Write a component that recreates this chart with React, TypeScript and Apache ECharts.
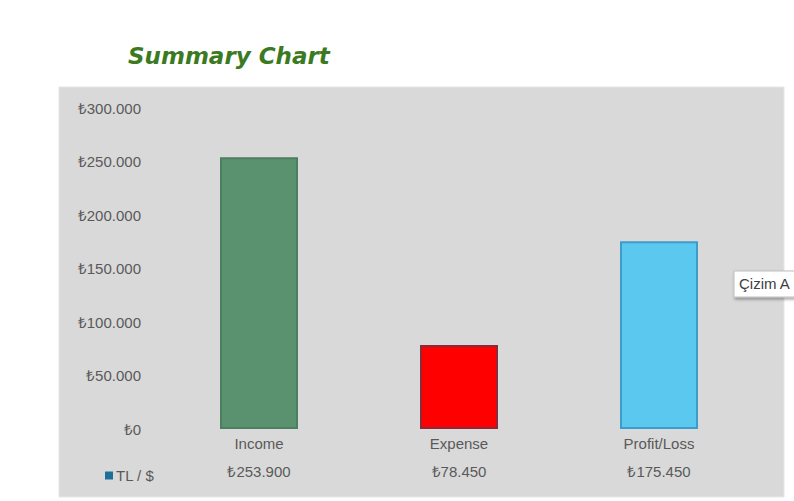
import React, { useEffect, useRef } from "react";
import * as echarts from "echarts";

const categories = ["Income", "Expense", "Profit/Loss"];
const values = [253900, 78450, 175450];
const seriesName = "TL / $";
const barColors = ["#5A9270", "#FF0000", "#5BC8F0"];
const barBorders = ["#4C7E60", "#8C2A3C", "#3E9CCB"];
const yMax = 300000;
const yInterval = 50000;

const fmt = (v: number) =>
  "₺" + String(Math.round(v)).replace(/\B(?=(\d{3})+(?!\d))/g, ".");

export default function App() {
  const ref = useRef<HTMLDivElement>(null);
  useEffect(() => {
    if (!ref.current) return;
    const chart = echarts.init(ref.current, undefined, { renderer: "svg" });
    const font = "'Liberation Sans Narrow', 'Arial Narrow', 'Liberation Sans', Arial, sans-serif";
    chart.setOption({
      animation: false,
      backgroundColor: "#FFFFFF",
      graphic: [
        {
          type: "rect",
          z: -10,
          shape: { x: 59, y: 87, width: 725, height: 410 },
          style: { fill: "#D9D9D9", stroke: "#E6E6E6", lineWidth: 1 },
          silent: true,
        },
        {
          type: "text",
          left: 128,
          top: 44,
          style: {
            text: "Summary Chart",
            fill: "#3C7A22",
            font: "italic bold 23px 'DejaVu Sans', sans-serif",
          },
        },
        {
          type: "rect",
          z: 20,
          shape: { x: 734, y: 271, width: 80, height: 26 },
          style: {
            fill: "#FFFFFF",
            stroke: "#BFBFBF",
            lineWidth: 1,
            shadowBlur: 3,
            shadowColor: "rgba(0,0,0,0.35)",
            shadowOffsetX: 1,
            shadowOffsetY: 2,
          },
        },
        {
          type: "text",
          z: 21,
          x: 739,
          y: 276,
          style: {
            text: "Çizim A",
            fill: "#404040",
            font: "15px 'Liberation Sans', Arial, sans-serif",
          },
        },
      ],
      legend: {
        left: 100,
        top: 463,
        icon: "rect",
        itemWidth: 8,
        itemHeight: 8,
        itemGap: 2,
        selectedMode: false,
        data: [{ name: seriesName, itemStyle: { color: "#1F6F9A" } }],
        textStyle: { color: "#595959", fontSize: 15, fontFamily: font, padding: [0, 0, 0, -2] },
      },
      grid: { left: 159, right: 35, top: 108, bottom: 72, containLabel: false },
      xAxis: {
        type: "category",
        data: categories,
        axisLine: { show: false },
        axisTick: { show: false },
        splitLine: { show: false },
        axisLabel: {
          margin: 0,
          interval: 0,
          formatter: (v: string, i: number) => `{cat|${v}}\n{val|${fmt(values[i])}}`,
          rich: {
            cat: { fontSize: 15, lineHeight: 28, color: "#595959", fontFamily: font },
            val: { fontSize: 15, lineHeight: 28, color: "#595959", fontFamily: font },
          },
        },
      },
      yAxis: {
        type: "value",
        min: 0,
        max: yMax,
        interval: yInterval,
        axisLine: { show: false },
        axisTick: { show: false },
        splitLine: { show: false },
        axisLabel: {
          margin: 18,
          color: "#595959",
          fontSize: 15,
          fontFamily: font,
          formatter: (v: number) => fmt(v),
        },
      },
      series: [
        {
          name: seriesName,
          type: "bar",
          barWidth: 78,
          data: values.map((v, i) => ({
            value: v,
            itemStyle: {
              color: barColors[i],
              borderColor: barBorders[i],
              borderWidth: 2,
            },
          })),
        },
      ],
    });
    return () => chart.dispose();
  }, []);
  return (
    <div
      ref={ref}
      style={{ position: "absolute", left: 0, top: 0, width: 794, height: 501 }}
    />
  );
}
